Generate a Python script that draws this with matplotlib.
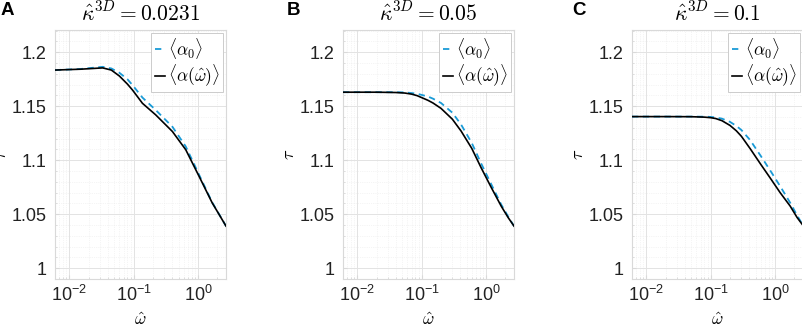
import numpy as np
import matplotlib
matplotlib.use('Agg')
import matplotlib.pyplot as plt
from matplotlib.ticker import FixedLocator, MultipleLocator, LogLocator, NullFormatter

plt.rcParams['font.family'] = ['Liberation Sans', 'DejaVu Sans']
plt.rcParams['mathtext.fontset'] = 'cm'

# omega-hat / tau values
kappa_labels = ['0.0231', '0.05', '0.1']
panel_letters = ['A', 'B', 'C']

w_a = [0.006, 0.015, 0.033, 0.045, 0.06, 0.08, 0.096, 0.137, 0.22, 0.4, 0.645, 1.04, 1.66, 2.72]
tau0_a = [1.1835, 1.1845, 1.1865, 1.185, 1.181, 1.175, 1.1696, 1.158, 1.1465, 1.131, 1.1127, 1.0865, 1.061, 1.039]
tauw_a = [1.1835, 1.1843, 1.1855, 1.1835, 1.178, 1.1705, 1.165, 1.1527, 1.142, 1.1266, 1.1097, 1.085, 1.0605, 1.039]

w_b = [0.006, 0.02, 0.04, 0.055, 0.07, 0.085, 0.1, 0.125, 0.15, 0.2, 0.3, 0.41, 0.6, 0.84, 1.2, 1.72, 2.2, 2.72]
tau0_b = [1.163, 1.163, 1.163, 1.1628, 1.1622, 1.1615, 1.1605, 1.159, 1.157, 1.153, 1.144, 1.133, 1.116, 1.097, 1.078, 1.059, 1.048, 1.039]
tauw_b = [1.163, 1.163, 1.1627, 1.1622, 1.1612, 1.1598, 1.158, 1.1555, 1.153, 1.148, 1.138, 1.127, 1.111, 1.093, 1.075, 1.0575, 1.047, 1.039]

w_c = [0.006, 0.02, 0.05, 0.08, 0.1, 0.12, 0.15, 0.2, 0.25, 0.3, 0.41, 0.6, 0.84, 1.2, 1.72, 2.2, 2.72]
tau0_c = [1.1404, 1.1404, 1.1404, 1.1403, 1.1401, 1.1396, 1.1385, 1.1355, 1.1318, 1.128, 1.1187, 1.104, 1.0906, 1.076, 1.0606, 1.049, 1.0396]
tauw_c = [1.1404, 1.1404, 1.1403, 1.1399, 1.1394, 1.1386, 1.1366, 1.1322, 1.1273, 1.1222, 1.1108, 1.0962, 1.0836, 1.070, 1.0575, 1.047, 1.0396]

xticks = [0.01, 0.1, 1]
xticklabels = [r'$\mathregular{10^{-2}}$', r'$\mathregular{10^{-1}}$', r'$\mathregular{10^{0}}$']
yticks = [1.0, 1.05, 1.1, 1.15, 1.2]
yticklabels = ['1', '1.05', '1.1', '1.15', '1.2']

panels = [(w_a, tau0_a, tauw_a), (w_b, tau0_b, tauw_b), (w_c, tau0_c, tauw_c)]

fig = plt.figure(figsize=(8.03, 3.30), dpi=100)
W, H = 803., 330.
lefts = [55, 343, 632]
letter_x = [1, 287, 572]
ax_w, ax_top, ax_bot = 171, 30, 279

gray = '#d9d9d9'
blue = '#1a9bd7'

for i, (w, t0, tw) in enumerate(panels):
    ax = fig.add_axes([lefts[i] / W, 1 - ax_bot / H, ax_w / W, (ax_bot - ax_top) / H])
    ax.plot(w, t0, '--', color=blue, lw=1.3, dashes=(3.5, 2.5), label=r'$\langle\alpha_0\rangle$', zorder=3)
    ax.plot(w, tw, '-', color='black', lw=1.2, label=r'$\langle\alpha(\hat{\omega})\rangle$', zorder=4)
    ax.set_xscale('log')
    ax.set_xlim(0.006, 2.72)
    ax.set_ylim(0.99, 1.2206)

    ax.xaxis.set_major_locator(FixedLocator(xticks))
    ax.set_xticklabels(xticklabels)
    ax.xaxis.set_minor_locator(LogLocator(base=10, subs=np.arange(2, 10)))
    ax.xaxis.set_minor_formatter(NullFormatter())
    ax.yaxis.set_major_locator(FixedLocator(yticks))
    ax.set_yticklabels(yticklabels)
    ax.yaxis.set_minor_locator(MultipleLocator(0.01))

    ax.grid(True, which='major', color='#e3e3e3', lw=0.7)
    ax.grid(True, which='minor', color='#ebebeb', lw=0.5, ls=':')
    ax.set_axisbelow(True)
    for s in ax.spines.values():
        s.set_color(gray)
        s.set_linewidth(0.8)
    ax.tick_params(which='both', direction='in', color=gray, labelsize=13, labelcolor='#222222')
    ax.tick_params(axis='y', pad=6)
    ax.tick_params(axis='x', pad=4)
    ax.tick_params(which='major', length=3)
    ax.tick_params(which='minor', length=1.5)

    ax.set_title(r'$\hat{\kappa}^{3D} = ' + kappa_labels[i] + '$', fontsize=15.5, pad=7)
    ax.set_xlabel(r'$\hat{\omega}$', fontsize=12.5)
    ax.xaxis.set_label_coords(0.5, -0.128)
    ax.set_ylabel(r'$\tau$', fontsize=13)
    ax.yaxis.set_label_coords(-45 / ax_w, 0.5)

    leg = ax.legend(loc='upper right', fontsize=12.5, handlelength=0.6, handletextpad=0.15,
                    borderaxespad=0.15, borderpad=0.2, labelspacing=0.1, fancybox=False,
                    framealpha=1, edgecolor='#cccccc')
    leg.get_frame().set_linewidth(0.7)

    fig.text(letter_x[i] / W, 1 - 2 / H, panel_letters[i], fontsize=13.5, fontweight='bold', va='top', ha='left')

fig.savefig('out.png', dpi=100)
